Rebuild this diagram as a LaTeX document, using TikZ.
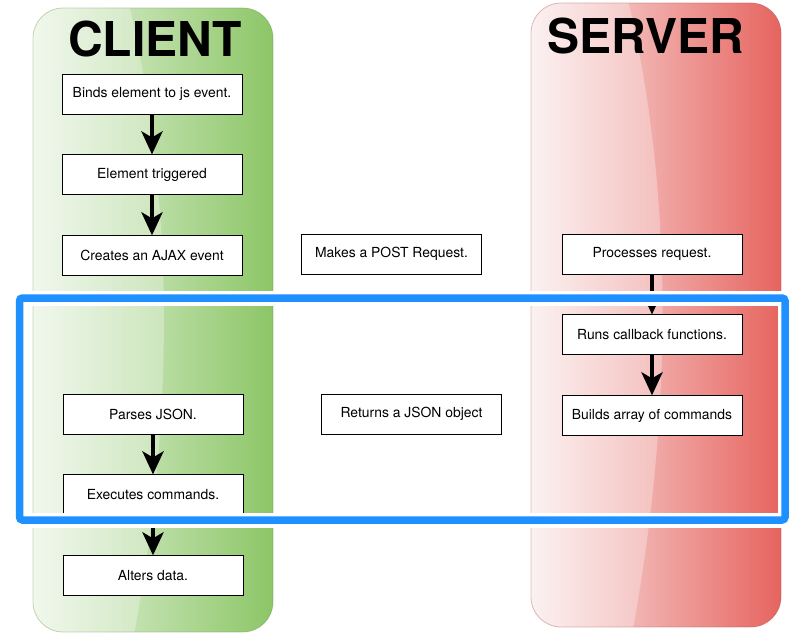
\documentclass[tikz,border=0pt]{standalone}
\usepackage{fontspec}
\setmainfont{TeX Gyre Heros}
\usetikzlibrary{positioning,arrows.meta}

\definecolor{clientlight}{RGB}{235,245,230}
\definecolor{clientdark}{RGB}{140,198,102}
\definecolor{serverlight}{RGB}{250,236,236}
\definecolor{serverdark}{RGB}{230,100,95}
\definecolor{frameblue}{RGB}{30,144,255}

\tikzset{
  stepbox/.style={draw, fill=white, line width=0.9pt, minimum width=180pt,
    minimum height=40pt, inner sep=0pt, font=\fontsize{13.9}{16}\selectfont},
  flow/.style={line width=4.5pt, -{Stealth[length=23pt,width=21pt,inset=6pt]}},
  coltitle/.style={font=\fontsize{48}{50}\selectfont\bfseries, anchor=base, inner sep=0pt},
}

\begin{document}
\begin{tikzpicture}[x=1pt, y=-1pt, node distance=40pt]
\useasboundingbox (0,0) rectangle (803,634);
% client column
\shade[left color=clientlight, right color=clientdark, rounded corners=30pt] (33,8) rectangle (273,632);
\begin{scope}
  \clip[rounded corners=30pt] (33,8) rectangle (273,632);
  \fill[white, opacity=0.3] (0,0) -- (128,0) .. controls (175,200) and (175,420) .. (133,640) -- (0,640) -- cycle;
\end{scope}
\draw[clientdark!70!black, opacity=0.35, line width=0.8pt, rounded corners=30pt] (33,8) rectangle (273,632);
% server column
\shade[left color=serverlight, right color=serverdark, rounded corners=30pt] (531,3) rectangle (781,627);
\begin{scope}
  \clip[rounded corners=30pt] (531,3) rectangle (781,627);
  \fill[white, opacity=0.3] (500,0) -- (628,0) .. controls (675,200) and (672,420) .. (631,640) -- (500,640) -- cycle;
\end{scope}
\draw[serverdark!70!black, opacity=0.35, line width=0.8pt, rounded corners=30pt] (531,3) rectangle (781,627);

\node[coltitle] (clienttitle) at (155,57) {CLIENT};
\node[coltitle] (servertitle) at (646,54) {SERVER};

% client side
\node[stepbox] (bind) at (152,94) {Binds element to js event.};
\node[stepbox, below=of bind] (trigger) {Element triggered};
\node[stepbox, below=of trigger] (ajax) {Creates an AJAX event};
\node[stepbox] (parse) at (153,414) {Parses JSON.};
\node[stepbox, below=of parse] (exec) {Executes commands.};
\node[stepbox, below=of exec] (alter) {Alters data.};
% middle
\node[stepbox] (post) at (391.5,254) {Makes a POST Request.};
\node[stepbox] (json) at (411.5,414) {Returns a JSON object};
% server side
\node[stepbox] (process) at (652,254) {Processes request.};
\node[stepbox, below=of process] (callback) {Runs callback functions.};
\node[stepbox, below=of callback] (build) {Builds array of commands};

\draw[flow] (bind) -- (trigger);
\draw[flow] (trigger) -- (ajax);
\draw[flow] (parse) -- (exec);
\draw[flow] (exec) -- (alter);
\draw[flow] (process) -- (callback);
\draw[flow] (callback) -- (build);

% highlight frame
\draw[white, line width=15pt] (19.5,298.5) rectangle (785,520.5);
\draw[frameblue, line width=7.5pt, rounded corners=3pt] (19.5,298) rectangle (785,520);
\end{tikzpicture}
\end{document}
